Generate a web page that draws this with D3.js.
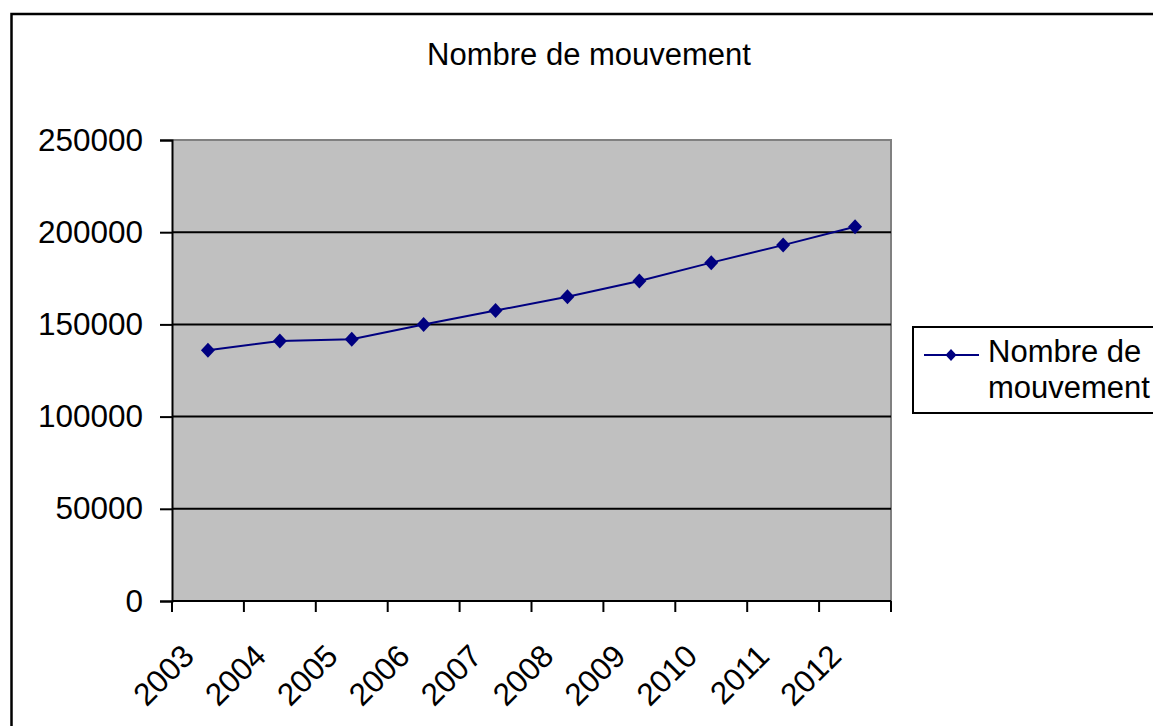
<!DOCTYPE html>
<html>
<head>
<meta charset="utf-8">
<script src="https://cdn.jsdelivr.net/npm/d3@7/dist/d3.min.js"></script>
<style>
  html, body { margin: 0; padding: 0; background: #fff; }
  svg { display: block; }
  text { font-family: "Liberation Sans", Arial, sans-serif; fill: #000; }
</style>
</head>
<body>
<svg id="chart" width="1153" height="726"></svg>
<script>
const years = ["2003","2004","2005","2006","2007","2008","2009","2010","2011","2012"];
const values = [136000, 141000, 142000, 150000, 157500, 165000, 173500, 183500, 193000, 203000];
const yTicks = [0, 50000, 100000, 150000, 200000, 250000];
const title = "Nombre de mouvement";
const seriesName = ["Nombre de", "mouvement"];

const svg = d3.select("#chart");
const FS = 31.5;
const navy = "#000080";

// outer chart border
svg.append("rect").attr("x", 11.5).attr("y", 14).attr("width", 1160).attr("height", 730)
  .attr("fill", "#fff").attr("stroke", "#000").attr("stroke-width", 2.5);

const plot = { left: 172, top: 140, right: 891, bottom: 601 };

const x = d3.scaleBand().domain(years).range([plot.left, plot.right]).padding(0);
const y = d3.scaleLinear().domain([0, 250000]).range([plot.bottom, plot.top]);

// plot background
svg.append("rect").attr("x", plot.left).attr("y", plot.top)
  .attr("width", plot.right - plot.left).attr("height", plot.bottom - plot.top)
  .attr("fill", "#c0c0c0");

// plot border top/right gray
svg.append("path")
  .attr("d", `M${plot.left},${plot.top}H${plot.right}V${plot.bottom}`)
  .attr("fill", "none").attr("stroke", "#808080").attr("stroke-width", 2);

// gridlines
svg.append("g").selectAll("line").data(yTicks.filter(v => v > 0 && v < 250000)).join("line")
  .attr("x1", plot.left).attr("x2", plot.right)
  .attr("y1", d => y(d)).attr("y2", d => y(d))
  .attr("stroke", "#000").attr("stroke-width", 2);

// y axis
const yAxis = d3.axisLeft(y).tickValues(yTicks).tickSize(12).tickPadding(17).tickFormat(d3.format("d"));
const gy = svg.append("g").attr("transform", `translate(${plot.left},0)`).call(yAxis);
gy.select(".domain").attr("stroke", "#000").attr("stroke-width", 2);
gy.selectAll(".tick line").attr("stroke", "#000").attr("stroke-width", 2);
gy.selectAll("text").attr("font-size", FS).attr("font-family", '"Liberation Sans", Arial, sans-serif').attr("fill", "#000");

// x axis: ticks at band boundaries
const bounds = years.map(d => x(d)).concat([x(years[years.length - 1]) + x.bandwidth()]);
const gx = svg.append("g");
gx.append("line").attr("x1", plot.left).attr("x2", plot.right)
  .attr("y1", plot.bottom).attr("y2", plot.bottom).attr("stroke", "#000").attr("stroke-width", 2);
gx.selectAll("line.tick").data(bounds).join("line").attr("class", "tick")
  .attr("x1", d => d).attr("x2", d => d)
  .attr("y1", plot.bottom).attr("y2", plot.bottom + 11)
  .attr("stroke", "#000").attr("stroke-width", 2);
gx.selectAll("text").data(years).join("text")
  .attr("transform", d => `translate(${x(d) + x.bandwidth() / 2 - 12},${plot.bottom + 57}) rotate(-45)`)
  .attr("text-anchor", "end")
  .attr("font-size", FS)
  .text(d => d);

// title
svg.append("text").attr("x", 589).attr("y", 65).attr("text-anchor", "middle")
  .attr("font-size", 31).text(title);

// line
const cx = d => x(d) + x.bandwidth() / 2;
const line = d3.line().x((d, i) => cx(years[i])).y(d => y(d));
svg.append("path").datum(values).attr("d", line)
  .attr("fill", "none").attr("stroke", navy).attr("stroke-width", 2);

const diamondPath = (hw, hh) => `M0,${-hh}L${hw},0L0,${hh}L${-hw},0Z`;
svg.append("g").selectAll("path").data(values).join("path")
  .attr("transform", (d, i) => `translate(${cx(years[i])},${y(d)})`)
  .attr("d", diamondPath(7, 7.5)).attr("fill", navy);

// legend
const lg = svg.append("g");
lg.append("rect").attr("x", 913).attr("y", 327).attr("width", 260).attr("height", 86)
  .attr("fill", "#fff").attr("stroke", "#000").attr("stroke-width", 2);
lg.append("line").attr("x1", 924).attr("x2", 979).attr("y1", 355).attr("y2", 355)
  .attr("stroke", navy).attr("stroke-width", 2);
lg.append("path").attr("transform", "translate(951,355)")
  .attr("d", diamondPath(5.5, 6)).attr("fill", navy);
lg.selectAll("text").data(seriesName).join("text")
  .attr("x", 988).attr("y", (d, i) => 362 + i * 36)
  .attr("font-size", 31).text(d => d);
</script>
</body>
</html>
